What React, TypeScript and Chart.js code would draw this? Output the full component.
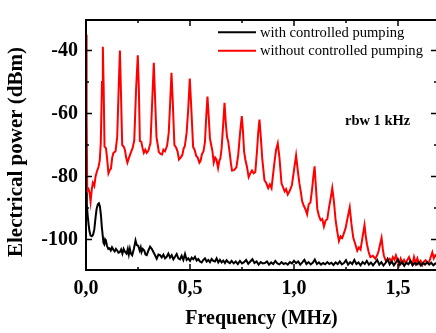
import React, { useEffect, useRef } from "react";
import { Chart, registerables } from "chart.js";

Chart.register(...registerables);

// ---------- data ----------
const xTickValues = [0, 0.5, 1.0, 1.5];
const xMinorTicks = [0.25, 0.75, 1.25];
const yTickValues = [-100, -80, -60, -40];
const yMinorTicks = [-90, -70, -50];

const xMin = 0;
const xMax = 1.6875;
const yMin = -109.7;
const yMax = -30.3;

const seriesLabels = ["with controlled pumping", "without controlled pumping"];
const annotationText = "rbw 1 kHz";
const xTitle = "Frequency (MHz)";
const yTitle = "Electrical power (dBm)";

const redFreq = [
  0.000, 0.003, 0.006, 0.012, 0.018, 0.022, 0.028, 0.033, 0.040, 0.046, 0.052, 0.060, 0.066, 0.071, 0.077, 0.081, 0.085, 0.089,
  0.096, 0.101, 0.108, 0.114, 0.120, 0.126, 0.132, 0.142, 0.150, 0.158, 0.163, 0.168, 0.174, 0.181, 0.187, 0.193, 0.199,
  0.207, 0.215, 0.224, 0.232, 0.241, 0.249, 0.254, 0.259, 0.266, 0.272, 0.278, 0.285, 0.292, 0.300, 0.310, 0.319, 0.326,
  0.332, 0.339, 0.345, 0.350, 0.358, 0.366, 0.372, 0.380, 0.390, 0.398, 0.405, 0.411, 0.417, 0.425, 0.433, 0.440, 0.447,
  0.455, 0.463, 0.470, 0.475, 0.484, 0.492, 0.499, 0.506, 0.515, 0.522, 0.530, 0.537, 0.545, 0.551, 0.557, 0.565, 0.572,
  0.578, 0.584, 0.590, 0.596, 0.602, 0.608, 0.614, 0.621, 0.627, 0.635, 0.641, 0.646, 0.652, 0.660, 0.666, 0.672, 0.678,
  0.684, 0.691, 0.697, 0.702, 0.712, 0.723, 0.732, 0.741, 0.749, 0.755, 0.760, 0.766, 0.774, 0.782, 0.790, 0.798, 0.806,
  0.814, 0.822, 0.828, 0.834, 0.840, 0.847, 0.853, 0.858, 0.866, 0.876, 0.884, 0.892, 0.900, 0.906, 0.914, 0.922, 0.930,
  0.940, 0.948, 0.955, 0.962, 0.970, 0.980, 0.990, 1.000, 1.010, 1.018, 1.026, 1.033, 1.039, 1.047, 1.055, 1.063, 1.071,
  1.079, 1.087, 1.093, 1.099, 1.105, 1.112, 1.120, 1.128, 1.136, 1.144, 1.152, 1.160, 1.168, 1.176, 1.184, 1.192, 1.200,
  1.208, 1.216, 1.224, 1.232, 1.240, 1.248, 1.258, 1.268, 1.276, 1.285, 1.295, 1.304, 1.312, 1.320, 1.330, 1.339, 1.345,
  1.351, 1.359, 1.367, 1.379, 1.391, 1.400, 1.407, 1.414, 1.421, 1.427, 1.432, 1.443, 1.452, 1.460, 1.468, 1.475, 1.483,
  1.490, 1.497, 1.505, 1.513, 1.521, 1.529, 1.537, 1.545, 1.553, 1.561, 1.569, 1.577, 1.585, 1.593, 1.601, 1.609, 1.617,
  1.625, 1.633, 1.641, 1.650, 1.658, 1.665, 1.672, 1.680, 1.690,
];
const redPower = [
  -35, -60, -84.5, -84, -85.5, -88, -84, -82, -83, -80, -78.5, -77, -75, -69.5, -50, -38.8, -52, -70.5,
  -71, -74, -79, -78, -77.5, -74, -72.5, -72, -67.5, -50, -40, -53, -70, -70.5, -71.5, -74, -75.6,
  -74, -72.5, -71, -68.5, -52, -41.5, -52, -68.7, -69, -71, -72.5, -71.5, -72.5, -71.8, -69.4, -55, -43.9,
  -55, -67.5, -70, -72.2, -72.8, -73, -71.5, -72, -70.2, -66, -56, -47.1, -56, -70, -70.8, -72, -74.6,
  -74, -73.2, -71, -70.4, -66, -58, -48.9, -58, -70.6, -71.5, -73.5, -74, -75.6, -75, -73, -72, -69,
  -61, -54.6, -61, -68, -70, -72, -75.6, -74, -74.6, -77.3, -75, -74.3, -71, -63, -56.6, -63, -67.5,
  -69, -72.6, -76, -78.1, -78, -77.1, -73, -66, -60.8, -66, -72, -74.6, -77, -80.2, -79, -78.1, -79,
  -78.6, -72, -66, -61.9, -67, -74.1, -78, -81.2, -82, -83.7, -82.5, -83.7, -79, -75.5, -71.5, -69.5, -74,
  -82.2, -83.5, -84.7, -84, -85.7, -84.5, -82.7, -78, -73.3, -78, -82.2, -85, -87.8, -89.3, -90.4, -92, -88.8,
  -88.3, -84, -80, -76.8, -83, -90.3, -92.5, -93.9, -93.5, -95.9, -94, -93.6, -90, -87, -83.7, -88, -93.9,
  -97.5, -100.5, -99, -99.5, -98, -96.4, -93, -89.8, -95, -99.5, -101.5, -103.6, -102.5, -103.2, -99, -95.4, -99,
  -101.6, -104, -105.6, -105.2, -106.1, -105, -103.6, -101.5, -99.5, -103, -105.1, -107.1, -106.5, -106.1, -107, -105.6, -106.5,
  -105.1, -106.5, -108.1, -106.1, -107.5, -106.5, -107.6, -106.5, -105.6, -107.1, -108, -105.6, -107.6, -106, -107.6, -106.8, -108.1,
  -107, -106.6, -107.5, -107.1, -105.5, -104.1, -106, -105, -105.6,
];

const blackFreq = [
  0.000, 0.004, 0.008, 0.013, 0.017, 0.022, 0.028, 0.034, 0.040, 0.046, 0.051, 0.057, 0.062, 0.067, 0.072, 0.076, 0.080,
  0.084, 0.088, 0.092, 0.096, 0.101, 0.107, 0.113, 0.119, 0.125, 0.132, 0.138, 0.144, 0.150, 0.156, 0.163, 0.169, 0.175,
  0.181, 0.188, 0.195, 0.201, 0.206, 0.211, 0.216, 0.222, 0.230, 0.238, 0.244, 0.251, 0.258, 0.263, 0.267, 0.273, 0.280,
  0.286, 0.292, 0.300, 0.308, 0.316, 0.324, 0.332, 0.340, 0.348, 0.356, 0.364, 0.372, 0.380, 0.388, 0.396, 0.404, 0.412,
  0.420, 0.428, 0.436, 0.444, 0.452, 0.460, 0.468, 0.476, 0.484, 0.492, 0.500, 0.508, 0.516, 0.524, 0.532, 0.540, 0.548,
  0.556, 0.564, 0.572, 0.580, 0.588, 0.596, 0.604, 0.612, 0.620, 0.628, 0.636, 0.644, 0.652, 0.660, 0.668, 0.676, 0.684,
  0.692, 0.700, 0.710, 0.720, 0.730, 0.740, 0.750, 0.760, 0.770, 0.780, 0.790, 0.800, 0.810, 0.820, 0.830, 0.840, 0.850,
  0.860, 0.870, 0.880, 0.890, 0.900, 0.910, 0.920, 0.930, 0.940, 0.950, 0.960, 0.970, 0.980, 0.990, 1.000, 1.010, 1.020,
  1.030, 1.040, 1.050, 1.060, 1.070, 1.080, 1.090, 1.100, 1.110, 1.120, 1.130, 1.140, 1.150, 1.160, 1.170, 1.180, 1.190,
  1.200, 1.210, 1.220, 1.230, 1.240, 1.250, 1.260, 1.270, 1.280, 1.290, 1.300, 1.310, 1.320, 1.330, 1.340, 1.350, 1.360,
  1.370, 1.380, 1.390, 1.400, 1.410, 1.420, 1.430, 1.440, 1.450, 1.460, 1.470, 1.480, 1.490, 1.500, 1.510, 1.520, 1.530,
  1.540, 1.550, 1.560, 1.570, 1.580, 1.590, 1.600, 1.610, 1.620, 1.630, 1.640, 1.650, 1.660, 1.670, 1.680, 1.690,
];
const blackPower = [
  -85, -89, -92.4, -95.5, -97.5, -98.8, -99, -98.5, -96.8, -93, -90.3, -88.8, -88.5, -89.5, -92.4, -96, -98.5,
  -101, -101.5, -100, -100.5, -102, -103, -102.8, -103.5, -102.5, -103.3, -103.8, -103, -103.5, -104.2, -104, -103.2, -104.5,
  -103, -104, -104.5, -103, -104.8, -103, -104.5, -105, -103, -100.3, -101.8, -102, -103.5, -102.5, -104, -103, -103.5,
  -104.8, -105, -103.5, -102.3, -103, -104, -105, -106.1, -104.8, -105, -105.7, -104.8, -106, -105.5, -104.5, -105.8, -105,
  -106.3, -105.5, -104.6, -106, -106.3, -105.2, -106.5, -104.6, -106.5, -106, -106.8, -105.8, -106.3, -105.5, -106.7, -106.2, -107,
  -107.3, -106.5, -106, -107, -106.5, -107.2, -106.2, -106.8, -107, -106, -107.3, -106.5, -107.3, -106.7, -107.5, -106.6, -107.2,
  -107.5, -106.8, -107.6, -107, -107.8, -106.8, -107.6, -107.2, -106.5, -107.7, -107, -106.3, -107.5, -107, -108, -107.2, -107.6,
  -107.5, -107, -108, -107.3, -107.8, -106.8, -107.6, -107.9, -107.2, -107.8, -107.5, -108, -107.2, -107.6, -106.8, -107.5, -107,
  -108, -107.3, -106.5, -107.8, -107.2, -107.9, -107.4, -106.4, -107.8, -107.3, -108, -107.5, -107.9, -107.2, -107.8, -107.4, -108.1,
  -107.3, -107.8, -107, -107.9, -107.5, -106.6, -108, -107.2, -107.8, -106.5, -107.8, -107.3, -108.2, -107.2, -107.8, -106.8, -108,
  -107.3, -108.2, -107.4, -106.5, -108, -107.2, -108.3, -107.5, -106.2, -107.9, -107, -108.2, -107.3, -106.3, -108, -107.2, -108.4,
  -107.4, -107.9, -106.8, -108.2, -107.5, -108, -107.2, -108.3, -107.5, -108, -107.2, -108, -107.4, -108.2, -107.6, -107.8,
];

const seriesColors = ["#000000", "#ff0000"];

// ---------- styling ----------
const FONT_FAMILY = "'Liberation Serif', 'Times New Roman', serif";

const framePlugin = {
  id: "frameAndTicks",
  afterDatasetsDraw(chart: any) {
    const { ctx, chartArea } = chart;
    const xs = chart.scales.x;
    const ys = chart.scales.y;
    const { left, right, top, bottom } = chartArea;
    ctx.save();
    ctx.strokeStyle = "#000";
    ctx.lineWidth = 2;
    ctx.strokeRect(left, top, right - left, bottom - top);
    ctx.lineWidth = 1.5;
    const drawX = (v: number, len: number) => {
      const px = xs.getPixelForValue(v);
      ctx.beginPath();
      ctx.moveTo(px, bottom);
      ctx.lineTo(px, bottom - len);
      ctx.moveTo(px, top);
      ctx.lineTo(px, top + len);
      ctx.stroke();
    };
    const drawY = (v: number, len: number) => {
      const py = ys.getPixelForValue(v);
      ctx.beginPath();
      ctx.moveTo(left, py);
      ctx.lineTo(left + len, py);
      ctx.moveTo(right, py);
      ctx.lineTo(right - len, py);
      ctx.stroke();
    };
    xTickValues.forEach((v) => drawX(v, 6));
    xMinorTicks.forEach((v) => drawX(v, 3));
    yTickValues.forEach((v) => drawY(v, 6));
    yMinorTicks.forEach((v) => drawY(v, 3));
    ctx.restore();
  },
  afterDraw(chart: any) {
    const { ctx } = chart;
    ctx.save();
    // legend
    const legendY = [32.3, 50.7];
    seriesLabels.forEach((label, i) => {
      ctx.strokeStyle = seriesColors[i];
      ctx.lineWidth = 2;
      ctx.beginPath();
      ctx.moveTo(218, legendY[i]);
      ctx.lineTo(256, legendY[i]);
      ctx.stroke();
      ctx.fillStyle = "#000";
      ctx.font = `14.6px ${FONT_FAMILY}`;
      ctx.textAlign = "left";
      ctx.textBaseline = "middle";
      ctx.fillText(label, 260, legendY[i] + 0.5);
    });
    // annotation
    ctx.font = `bold 14.5px ${FONT_FAMILY}`;
    ctx.fillText(annotationText, 345, 121);
    // y title (centred on the whole figure)
    ctx.font = `bold 21px ${FONT_FAMILY}`;
    ctx.translate(22, 152);
    ctx.rotate(-Math.PI / 2);
    ctx.textAlign = "center";
    ctx.textBaseline = "alphabetic";
    ctx.fillText(yTitle, 0, 0);
    ctx.restore();
  },
};

export default function App() {
  const canvasRef = useRef<HTMLCanvasElement | null>(null);

  useEffect(() => {
    if (!canvasRef.current) return;
    const tickFont = { family: FONT_FAMILY, size: 20, weight: "bold" as const };
    const chart = new Chart(canvasRef.current, {
      type: "line",
      data: {
        datasets: [
          {
            label: seriesLabels[0],
            data: blackFreq.map((f, i) => ({ x: f, y: blackPower[i] })),
            borderColor: seriesColors[0],
            borderWidth: 2,
            pointRadius: 0,
            tension: 0,
            fill: false,
          },
          {
            label: seriesLabels[1],
            data: redFreq.map((f, i) => ({ x: f, y: redPower[i] })),
            borderColor: seriesColors[1],
            borderWidth: 2,
            pointRadius: 0,
            tension: 0,
            fill: false,
          },
        ],
      },
      options: {
        animation: false,
        responsive: false,
        maintainAspectRatio: false,
        devicePixelRatio: 1,
        layout: { padding: { top: 10, right: 3, left: 0, bottom: 0 } },
        plugins: { legend: { display: false }, tooltip: { enabled: false } },
        scales: {
          x: {
            type: "linear",
            min: xMin,
            max: xMax,
            grid: { display: false, drawTicks: false },
            border: { display: false },
            afterBuildTicks: (axis: any) => {
              axis.ticks = xTickValues.map((v) => ({ value: v }));
            },
            afterFit: (axis: any) => {
              axis.height = 63;
            },
            ticks: {
              color: "#000",
              font: tickFont,
              padding: 7,
              maxRotation: 0,
              autoSkip: false,
              callback: (v: any) => Number(v).toFixed(1).replace(".", ","),
            },
            title: {
              display: true,
              text: xTitle,
              color: "#000",
              font: { family: FONT_FAMILY, size: 20, weight: "bold" },
              padding: { top: 0, bottom: 2 },
            },
          },
          y: {
            type: "linear",
            min: yMin,
            max: yMax,
            grid: { display: false, drawTicks: false },
            border: { display: false },
            afterBuildTicks: (axis: any) => {
              axis.ticks = yTickValues.map((v) => ({ value: v }));
            },
            afterFit: (axis: any) => {
              axis.width = 86;
            },
            ticks: {
              color: "#000",
              font: tickFont,
              padding: 8,
              autoSkip: false,
              callback: (v: any) => String(v),
            },
          },
        },
      },
      plugins: [framePlugin],
    });
    return () => chart.destroy();
  }, []);

  return (
    <div
      style={{
        position: "absolute",
        left: 0,
        top: 0,
        width: 436,
        height: 333,
        overflow: "hidden",
        background: "#fff",
      }}
    >
      <canvas ref={canvasRef} width={440} height={333} style={{ width: 440, height: 333, display: "block" }} />
    </div>
  );
}
